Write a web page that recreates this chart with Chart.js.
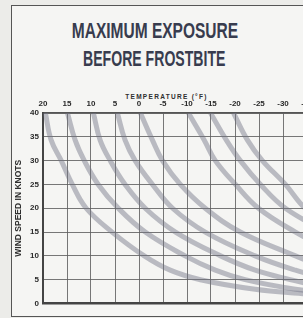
<!DOCTYPE html>
<html>
<head>
<meta charset="utf-8">
<script src="https://cdn.jsdelivr.net/npm/chart.js@4/dist/chart.umd.min.js"></script>
<style>
  html, body { margin:0; padding:0; width:303px; height:318px; overflow:hidden; background:#ecece9; }
  #frame { position:absolute; left:11px; top:5px; width:400px; height:310px; border:1.5px solid #555; background:#f5f5f3; }
  #c { position:absolute; left:0; top:0; }
  .t { position:absolute; left:0; width:309px; text-align:center; font-family:"Liberation Sans Narrow","Liberation Sans",sans-serif; font-weight:bold; font-size:22px; line-height:22px; color:#383c4e; white-space:nowrap; }
  .t span { display:inline-block; transform-origin:center; }
  #xt { position:absolute; left:0; width:333px; top:93px; text-align:center; font-family:"Liberation Sans Narrow",sans-serif; font-weight:bold; font-size:6.5px; line-height:8px; letter-spacing:1.3px; color:#2e2e2e; white-space:nowrap; }
</style>
</head>
<body>
<div id="frame"></div>
<div class="t" style="top:20px"><span style="transform:scaleX(0.705)">MAXIMUM EXPOSURE</span></div>
<div class="t" style="top:48px"><span style="transform:scaleX(0.64)">BEFORE FROSTBITE</span></div>
<div id="xt">TEMPERATURE (°F)</div>
<canvas id="c" width="345" height="318"></canvas>
<script>
// wind speed rows (knots) at which each curve's temperature (°F) was read
const windRows = [40, 34.3, 30, 25, 20, 15, 10, 7, 5, 3, 2];
const curveA = [19.5, 18.3, 16.2, 13.9, 11.0, 5.6, -1.1, -6.5, -12.8, -24.2, -35];
const curveB = [14.9, 13.3, 11.4, 8.5, 4.3, -1.3, -9.6, -15.9, -22.1, -32.6, -42];
const curveC = [9.5, 8.1, 6.0, 2.9, -1.3, -7.6, -17.0, -24.2, -31.5, -40];
const curveD = [4.5, 2.9, 0.8, -2.8, -7.0, -13.8, -24.2, -32.6, -40];
const curveE = [-0.3, -2.8, -4.9, -8.6, -13.8, -21.1, -32.6, -40];
const curveF = [-10.3, -13.6, -15.9, -20.1, -24.9, -32.6, -42];
const curveG = [-14.9, -18.2, -21.1, -25.3, -30.5, -39];
const curveH = [-19.7, -22.6, -25.7, -30.5, -34.6, -41];
const curves = [curveA, curveB, curveC, curveD, curveE, curveF, curveG, curveH];

const tempMin = -40, tempMax = 20, windMin = 0, windMax = 40;
const yTitle = "WIND SPEED IN KNOTS";

const datasets = curves.map(c => ({
  data: c.map((t, i) => ({ x: t, y: windRows[i] })),
  borderColor: 'rgba(112,116,134,0.45)',
  borderWidth: 5,
  pointRadius: 0,
  tension: 0.4,
  fill: false,
  showLine: true
}));

const tickFont = { family: "'Liberation Sans Narrow', sans-serif", size: 8, weight: 'bold' };

new Chart(document.getElementById('c'), {
  type: 'scatter',
  data: { datasets },
  options: {
    responsive: false,
    animation: false,
    layout: { padding: { left: 14, top: 92, right: 14, bottom: 14.5 } },
    plugins: { legend: { display: false }, tooltip: { enabled: false } },
    scales: {
      x: {
        type: 'linear', position: 'top', reverse: true,
        min: tempMin, max: tempMax,
        ticks: { stepSize: 5, color: '#2a2a2a', font: tickFont, padding: 4, maxRotation: 0, autoSkip: false },
        grid: { color: 'rgba(95,95,95,0.85)', lineWidth: 1, drawTicks: false },
        border: { color: '#555', width: 1.5 },
        afterFit: s => { s.height = 21; }
      },
      y: {
        type: 'linear', position: 'left',
        min: windMin, max: windMax,
        ticks: { stepSize: 5, color: '#2a2a2a', font: tickFont, padding: 4 },
        grid: {
          color: ctx => ctx.tick && ctx.tick.value === 0 ? '#444' : 'rgba(95,95,95,0.85)',
          lineWidth: ctx => ctx.tick && ctx.tick.value === 0 ? 2.5 : 1,
          drawTicks: false
        },
        border: { color: '#444', width: 2 },
        title: { display: true, text: yTitle, color: '#2e2e2e', padding: 0,
          font: { family: "'Liberation Sans Narrow', sans-serif", size: 8.5, weight: 'bold' } },
        afterFit: s => { s.width = 29; }
      }
    }
  }
});
</script>
</body>
</html>
